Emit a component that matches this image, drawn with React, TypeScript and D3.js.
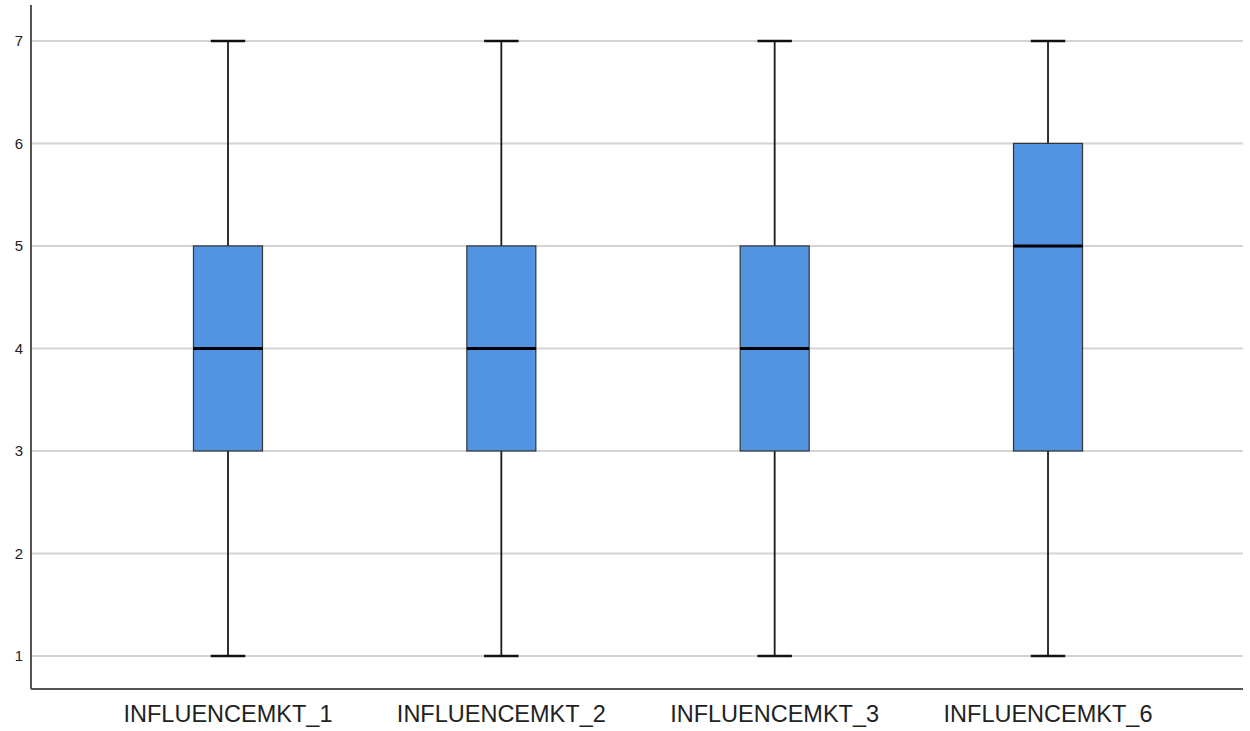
import React from "react";
import * as d3 from "d3";

const categories = ["INFLUENCEMKT_1", "INFLUENCEMKT_2", "INFLUENCEMKT_3", "INFLUENCEMKT_6"];
const minVals = [1, 1, 1, 1];
const q1Vals = [3, 3, 3, 3];
const medianVals = [4, 4, 4, 5];
const q3Vals = [5, 5, 5, 6];
const maxVals = [7, 7, 7, 7];
const yTicks = [1, 2, 3, 4, 5, 6, 7];

const W = 1250;
const H = 731;
const left = 31;
const right = 1243;
const top = 5;
const bottom = 689;

export default function App() {
  const x = d3.scaleBand<string>().domain(categories).range([left + 1, right + 1]).paddingInner(0).paddingOuter(0.217);
  const y = d3.scaleLinear().domain([0.678, 7.35]).range([bottom, top]);
  const step = x.step();
  const boxW = step * 0.2525;
  const capW = step * 0.126;
  const font = "'Liberation Sans', Arial, sans-serif";

  return (
    <svg width={W} height={H} style={{ position: "absolute", left: 0, top: 0, background: "#fff" }}>
      <rect x={0} y={0} width={W} height={H} fill="#fff" />
      {yTicks.map((t) => (
        <g key={t}>
          <line x1={left} x2={right} y1={y(t)} y2={y(t)} stroke="#d4d4d4" strokeWidth={2} />
          <text x={23} y={y(t)} dy="0.36em" textAnchor="end" fontFamily={font} fontSize={15} fill="#222">
            {t}
          </text>
        </g>
      ))}
      {categories.map((c, i) => {
        const cx = (x(c) as number) + step / 2;
        return (
          <g key={c}>
            <line x1={cx} x2={cx} y1={y(maxVals[i])} y2={y(q3Vals[i])} stroke="#1a1a1a" strokeWidth={1.8} />
            <line x1={cx} x2={cx} y1={y(q1Vals[i])} y2={y(minVals[i])} stroke="#1a1a1a" strokeWidth={1.8} />
            <line x1={cx - capW / 2} x2={cx + capW / 2} y1={y(maxVals[i])} y2={y(maxVals[i])} stroke="#111" strokeWidth={2.5} />
            <line x1={cx - capW / 2} x2={cx + capW / 2} y1={y(minVals[i])} y2={y(minVals[i])} stroke="#111" strokeWidth={2.5} />
            <rect
              x={cx - boxW / 2}
              y={y(q3Vals[i])}
              width={boxW}
              height={y(q1Vals[i]) - y(q3Vals[i])}
              fill="#5294e2"
              stroke="#333"
              strokeWidth={1.2}
            />
            <line x1={cx - boxW / 2} x2={cx + boxW / 2} y1={y(medianVals[i])} y2={y(medianVals[i])} stroke="#000" strokeWidth={3} />
            <text x={cx} y={722} textAnchor="middle" fontFamily={font} fontSize={23.5} fill="#222">
              {c}
            </text>
          </g>
        );
      })}
      <line x1={left} x2={left} y1={top} y2={bottom} stroke="#555" strokeWidth={2} />
      <line x1={left} x2={right} y1={bottom} y2={bottom} stroke="#555" strokeWidth={2} />
    </svg>
  );
}
